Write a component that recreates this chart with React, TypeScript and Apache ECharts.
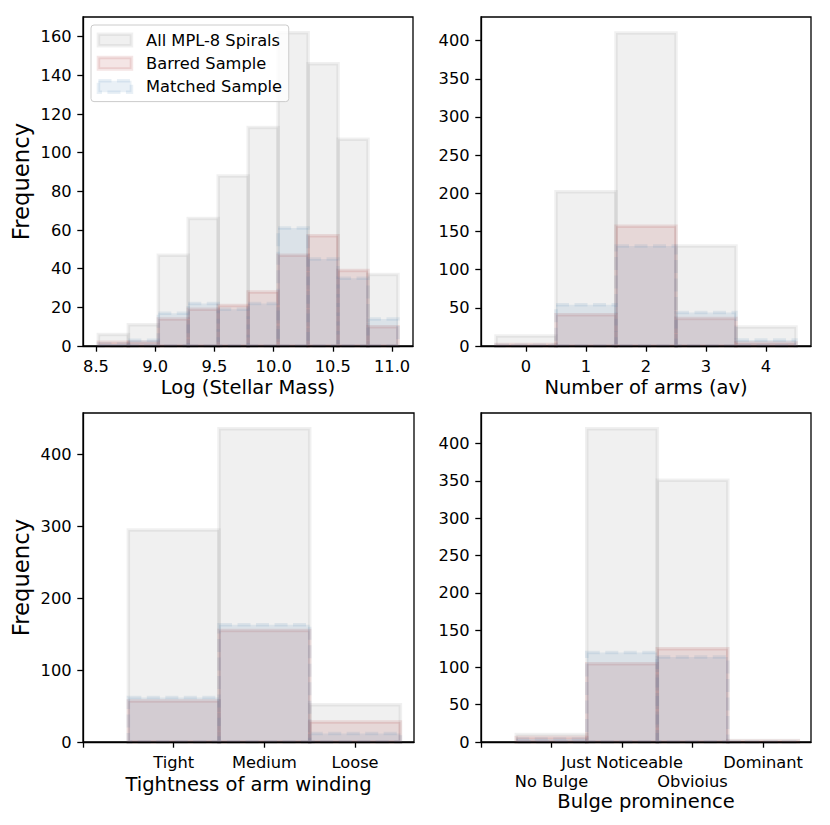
import React, { useEffect, useRef } from 'react';
import * as echarts from 'echarts';

const seriesNames = ['All MPL-8 Spirals', 'Barred Sample', 'Matched Sample'];

// Panel 1: Log (Stellar Mass)
const massBinEdges = [8.52, 8.773, 9.026, 9.279, 9.532, 9.785, 10.038, 10.291, 10.544, 10.797, 11.05];
const massAll = [6, 11, 47, 66, 88, 113, 162, 146, 107, 37];
const massBarred = [2, 2, 14, 19, 21, 28, 47, 57, 39, 10];
const massMatched = [1, 3, 17, 22, 19, 22, 61, 45, 35, 14];
const massTicks = [8.5, 9.0, 9.5, 10.0, 10.5, 11.0];
const massFreqTicks = [0, 20, 40, 60, 80, 100, 120, 140, 160];

// Panel 2: Number of arms
const armsBinEdges = [-0.5, 0.5, 1.5, 2.5, 3.5, 4.5];
const armsAll = [13, 202, 410, 131, 25];
const armsBarred = [2, 41, 157, 36, 4];
const armsMatched = [1, 54, 131, 44, 8];
const armsTicks = [0, 1, 2, 3, 4];
const armsFreqTicks = [0, 50, 100, 150, 200, 250, 300, 350, 400];

// Panel 3: Tightness of arm winding
const windingCategories = ['Tight', 'Medium', 'Loose'];
const windingBinEdges = [-0.5, 0.5, 1.5, 2.5];
const windingAll = [295, 436, 52];
const windingBarred = [57, 155, 28];
const windingMatched = [62, 163, 12];
const windingTicks = [-1, 0, 1, 2];
const windingLabelTicks = [0, 1, 2];
const windingFreqTicks = [0, 100, 200, 300, 400];

// Panel 4: Bulge prominence
const bulgeCategories = ['No Bulge', 'Just Noticeable', 'Obvioius', 'Dominant'];
const bulgeBinEdges = [-0.5, 0.5, 1.5, 2.5, 3.5];
const bulgeAll = [10, 420, 351, 2];
const bulgeBarred = [6, 105, 125, 1];
const bulgeMatched = [4, 120, 114, 0];
const bulgeTicks = [-1, 0, 1, 2, 3];
const bulgeUpperLabelTicks = [1, 3];
const bulgeLowerLabelTicks = [0, 2];
const bulgeFreqTicks = [0, 50, 100, 150, 200, 250, 300, 350, 400];

const FONT = 'DejaVu Sans';
const fills = ['rgba(128,128,128,0.12)', 'rgba(165,42,42,0.12)', 'rgba(70,130,180,0.12)'];
const dashes: any[] = [null, null, [13, 5.5]];
const EDGE_W = 3.5;

function histSeries(edges: number[], counts: number[][], idx: number) {
  return counts.map((c, k) => ({
    type: 'custom',
    name: seriesNames[k],
    xAxisIndex: idx,
    yAxisIndex: idx,
    encode: { x: [0, 1], y: 2 },
    itemStyle: { color: fills[k] },
    data: c.map((v, j) => [edges[j], edges[j + 1], v]),
    renderItem: (params: any, api: any) => {
      const p0 = api.coord([api.value(0), 0]);
      const p1 = api.coord([api.value(1), api.value(2)]);
      return {
        type: 'rect',
        shape: { x: p0[0], y: p1[1], width: p1[0] - p0[0], height: p0[1] - p1[1] },
        style: {
          fill: fills[k],
          stroke: fills[k],
          lineWidth: EDGE_W,
          lineDash: dashes[k] || undefined,
        },
      };
    },
  }));
}

const axisLineStyle = { color: '#000', width: 1.3 };

function xAxis(idx: number, min: number, max: number, ticks: number[], labelTicks: number[], fmt: (v: number) => string, name: string, nameGap: number, margin = 10.5, showLine = true) {
  return {
    type: 'value',
    gridIndex: idx,
    position: 'bottom',
    offset: 0,
    min,
    max,
    z: 5,
    axisLine: { show: showLine, onZero: false, lineStyle: axisLineStyle },
    axisTick: { show: showLine, length: 5.7, lineStyle: axisLineStyle, customValues: ticks },
    axisLabel: {
      customValues: labelTicks,
      formatter: fmt,
      margin,
      fontSize: 16.25,
      lineHeight: 19,
      color: '#000',
      fontFamily: FONT,
      showMinLabel: true,
      showMaxLabel: true,
      hideOverlap: false,
    },
    splitLine: { show: false },
    name,
    nameLocation: 'middle',
    nameGap,
    nameTextStyle: { fontSize: 19.5, lineHeight: 22, color: '#000', fontFamily: FONT },
  };
}

function yAxis(idx: number, max: number, ticks: number[], name: string) {
  return {
    type: 'value',
    gridIndex: idx,
    min: 0,
    max,
    z: 5,
    axisLine: { show: true, onZero: false, lineStyle: axisLineStyle },
    axisTick: { show: true, length: 5.7, lineStyle: axisLineStyle, customValues: ticks },
    axisLabel: {
      customValues: ticks,
      margin: 11.4,
      fontSize: 16.25,
      color: '#000',
      fontFamily: FONT,
      showMinLabel: true,
      showMaxLabel: true,
    },
    splitLine: { show: false },
    name,
    nameLocation: 'middle',
    nameGap: 49,
    nameRotate: 90,
    nameTextStyle: { fontSize: 22.75, lineHeight: 26, color: '#000', fontFamily: FONT },
  };
}

export default function App() {
  const ref = useRef<HTMLDivElement>(null);
  useEffect(() => {
    if (!ref.current) return;
    const chart = echarts.init(ref.current, null, { renderer: 'svg' });
    const gridBase = { show: true, borderColor: '#000', borderWidth: 1.3, backgroundColor: 'transparent', containLabel: false };
    const bulgeFmt = (v: number) => bulgeCategories[Math.round(v)] || '';
    const option: any = {
      animation: false,
      grid: [
        { ...gridBase, left: 83, top: 17, width: 330, height: 329 },
        { ...gridBase, left: 481, top: 17, width: 330, height: 329 },
        { ...gridBase, left: 83, top: 413, width: 331, height: 329 },
        { ...gridBase, left: 481, top: 413, width: 330, height: 329 },
      ],
      xAxis: [
        xAxis(0, 8.39, 11.177, massTicks, massTicks, (v) => Number(v).toFixed(1), 'Log (Stellar Mass)', 25),
        xAxis(1, -0.75, 4.75, armsTicks, armsTicks, (v) => String(v), 'Number of arms (av)', 25),
        xAxis(2, -1, 2.65, windingTicks, windingLabelTicks, (v) => windingCategories[Math.round(v)] || '', 'Tightness of arm winding', 31),
        xAxis(3, -1, 3.68, bulgeTicks, bulgeUpperLabelTicks, bulgeFmt, 'Bulge prominence', 48),
        xAxis(3, -1, 3.68, bulgeTicks, bulgeLowerLabelTicks, bulgeFmt, '', 48, 29.5, false),
      ],
      yAxis: [
        yAxis(0, 170.2, massFreqTicks, 'Frequency'),
        yAxis(1, 431, armsFreqTicks, ''),
        yAxis(2, 457.8, windingFreqTicks, 'Frequency'),
        yAxis(3, 441, bulgeFreqTicks, ''),
      ],
      legend: {
        orient: 'vertical',
        left: 91,
        top: 25,
        itemWidth: 33,
        itemHeight: 11.5,
        itemGap: 7.3,
        padding: [7, 6.7, 7, 5.7],
        backgroundColor: 'rgba(255,255,255,0.8)',
        borderColor: '#cccccc',
        borderWidth: 1,
        borderRadius: 3,
        selectedMode: false,
        textStyle: { fontSize: 16.25, lineHeight: 16, color: '#000', fontFamily: FONT, padding: [0, 0, 0, 9.6] },
        data: seriesNames.map((n, k) => ({
          name: n,
          icon: 'rect',
          itemStyle: {
            color: fills[k],
            borderColor: fills[k],
            borderWidth: EDGE_W,
            borderType: dashes[k] || 'solid',
          },
        })),
      },
      series: [
        ...histSeries(massBinEdges, [massAll, massBarred, massMatched], 0),
        ...histSeries(armsBinEdges, [armsAll, armsBarred, armsMatched], 1),
        ...histSeries(windingBinEdges, [windingAll, windingBarred, windingMatched], 2),
        ...histSeries(bulgeBinEdges, [bulgeAll, bulgeBarred, bulgeMatched], 3),
      ],
    };
    chart.setOption(option);
    return () => chart.dispose();
  }, []);
  return <div ref={ref} style={{ position: 'fixed', left: 0, top: 0, width: 830, height: 825, background: '#fff' }} />;
}
